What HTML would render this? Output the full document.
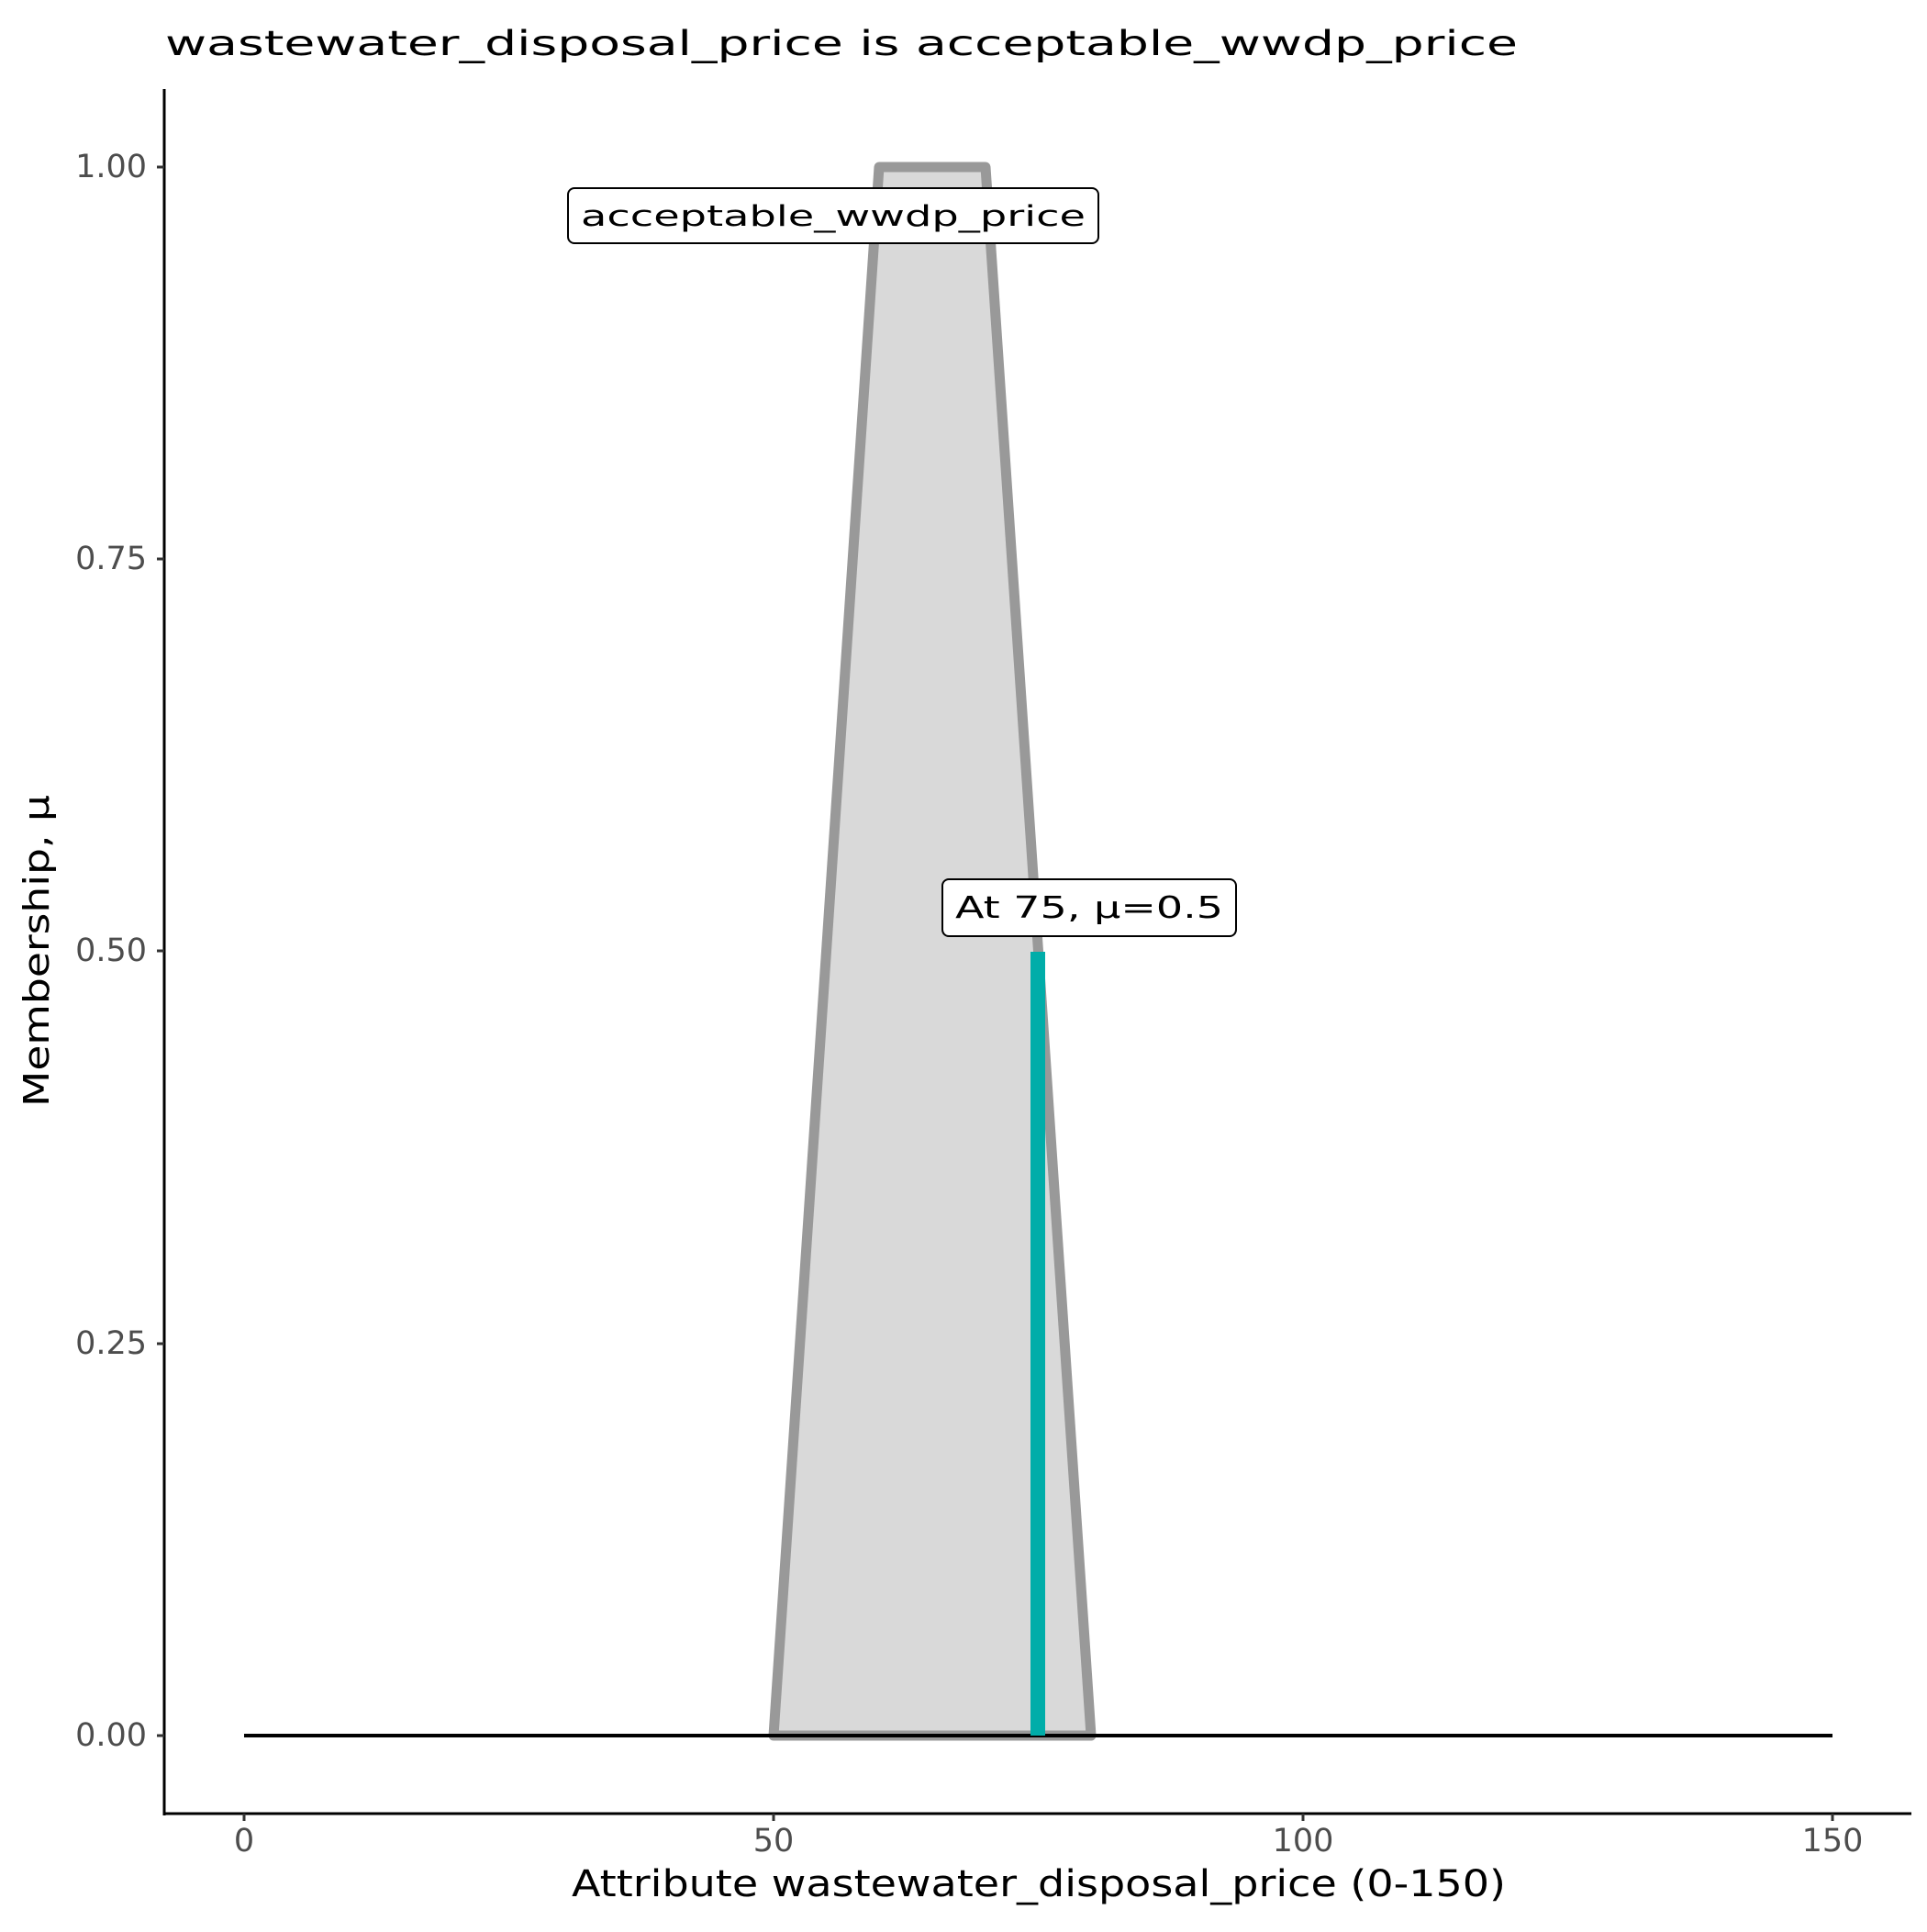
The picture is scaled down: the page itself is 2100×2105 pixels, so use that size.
<!DOCTYPE html>
<html><head><meta charset="utf-8"><style>html,body{margin:0;padding:0;background:#fff}</style></head>
<body>
<svg width="2100" height="2100" viewBox="0 0 2100 2100" xmlns="http://www.w3.org/2000/svg" font-family="DejaVu Sans, Liberation Sans, sans-serif">
<rect width="2100" height="2100" fill="#fff"/>
<text x="180" y="60" font-size="37" fill="#000" textLength="1474" lengthAdjust="spacingAndGlyphs">wastewater_disposal_price is acceptable_wwdp_price</text>
<polygon points="843,1891 958,182 1074,182 1189,1891" fill="#d9d9d9" stroke="#999999" stroke-width="11" stroke-linejoin="round"/>
<line x1="266" y1="1891" x2="1997" y2="1891" stroke="#000" stroke-width="4"/>
<line x1="1131" y1="1891" x2="1131" y2="1037" stroke="#00ADA9" stroke-width="16"/>
<rect x="619" y="205" width="578" height="60" rx="7" fill="#fff" stroke="#000" stroke-width="2"/>
<text x="908" y="246" font-size="31" text-anchor="middle" textLength="550" lengthAdjust="spacingAndGlyphs">acceptable_wwdp_price</text>
<rect x="1027" y="958" width="320" height="62" rx="7" fill="#fff" stroke="#000" stroke-width="2"/>
<text x="1187" y="1000" font-size="33" text-anchor="middle" textLength="292" lengthAdjust="spacingAndGlyphs">At 75, μ=0.5</text>
<line x1="179" y1="97" x2="179" y2="1978" stroke="#000" stroke-width="3"/>
<line x1="178" y1="1976" x2="2083" y2="1976" stroke="#000" stroke-width="3"/>
<g stroke="#333" stroke-width="3">
<line x1="171" y1="182" x2="179" y2="182"/><line x1="171" y1="609" x2="179" y2="609"/><line x1="171" y1="1036" x2="179" y2="1036"/><line x1="171" y1="1464" x2="179" y2="1464"/><line x1="171" y1="1891" x2="179" y2="1891"/>
<line x1="266" y1="1976" x2="266" y2="1984"/><line x1="843" y1="1976" x2="843" y2="1984"/><line x1="1420" y1="1976" x2="1420" y2="1984"/><line x1="1997" y1="1976" x2="1997" y2="1984"/>
</g>
<g font-size="35" fill="#4d4d4d" text-anchor="end" dominant-baseline="central">
<text x="160" y="182">1.00</text><text x="160" y="609">0.75</text><text x="160" y="1036">0.50</text><text x="160" y="1464">0.25</text><text x="160" y="1891">0.00</text>
</g>
<g font-size="35" fill="#4d4d4d" text-anchor="middle" dominant-baseline="central">
<text x="266" y="2006">0</text><text x="843" y="2006">50</text><text x="1420" y="2006">100</text><text x="1997" y="2006">150</text>
</g>
<text x="1132" y="2053" font-size="40" text-anchor="middle" dominant-baseline="central" textLength="1018" lengthAdjust="spacingAndGlyphs">Attribute wastewater_disposal_price (0-150)</text>
<text transform="translate(40,1036) rotate(-90)" font-size="38" text-anchor="middle" dominant-baseline="central" textLength="340" lengthAdjust="spacingAndGlyphs">Membership, μ</text>
</svg>
</body></html>
